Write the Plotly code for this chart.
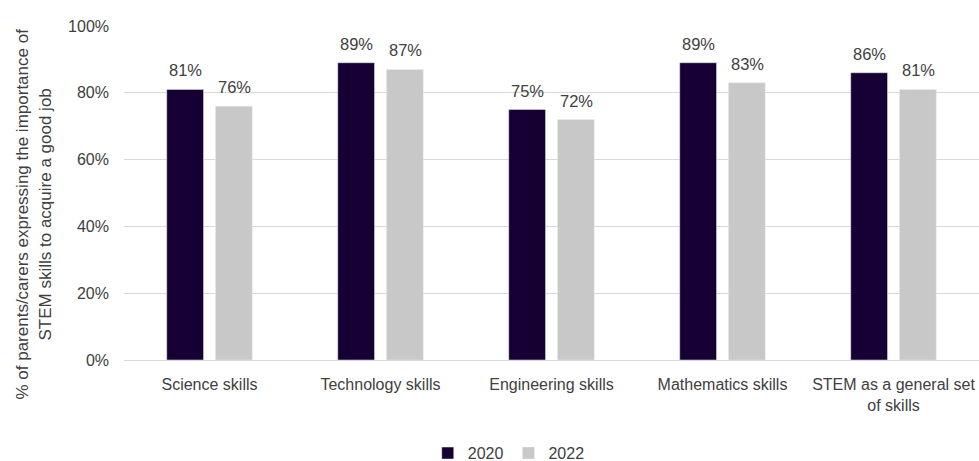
import plotly.graph_objects as go

categories = ["Science skills", "Technology skills", "Engineering skills",
              "Mathematics skills", "STEM as a general set<br>of skills"]
values_2020 = [81, 89, 75, 89, 86]
values_2022 = [76, 87, 72, 83, 81]
tick_vals = [0, 20, 40, 60, 80, 100]
tick_text = ["0%", "20%", "40%", "60%", "80%", "100%"]
y_title = "% of parents/carers expressing the importance of<br>STEM skills to acquire a good job"

FONT = "Liberation Sans, Arial, sans-serif"
TEXT = "#404040"

fig = go.Figure()
fig.add_trace(go.Bar(name="2020", x=categories, y=values_2020,
                     marker=dict(color="#160033"), offsetgroup="a"))
fig.add_trace(go.Bar(name="2022", x=categories, y=values_2022,
                     marker=dict(color="#c8c8c8"), offsetgroup="b"))

# value labels above each bar, offset by group position
for vals, xshift in ((values_2020, -24.5), (values_2022, 24.5)):
    for cat, v in zip(categories, vals):
        fig.add_annotation(x=cat, y=v, text=f"{v}%", showarrow=False,
                           xanchor="center", yanchor="bottom", xshift=xshift, yshift=8,
                           font=dict(size=16.5, color=TEXT, family=FONT))

# rotated y-axis title, centred slightly below the plot middle
fig.add_annotation(xref="paper", yref="paper", x=0, y=0.437, text=y_title,
                   textangle=-90, showarrow=False, xanchor="center", yanchor="middle",
                   xshift=-90.5, align="center",
                   font=dict(size=17, color=TEXT, family=FONT))

fig.update_layout(
    width=979, height=461,
    margin=dict(l=124, r=0, t=26, b=101, autoexpand=False),
    paper_bgcolor="white", plot_bgcolor="white",
    font=dict(family=FONT, color=TEXT, size=16),
    barmode="group", bargap=0.43, bargroupgap=0.245,
    showlegend=True,
    legend=dict(orientation="h", x=0.45, xanchor="center",
                y=-0.228, yanchor="top",
                font=dict(size=16, color=TEXT, family=FONT), traceorder="normal",
                itemwidth=30),
    xaxis=dict(showline=True, linecolor="#d9d9d9", linewidth=1, ticks="",
               ticklabelstandoff=10,
               tickfont=dict(size=16, color=TEXT, family=FONT)),
    yaxis=dict(range=[0, 100], tickvals=tick_vals, ticktext=tick_text,
               showgrid=True, gridcolor="#d9d9d9", gridwidth=1, zeroline=False,
               ticks="", ticklen=0, ticklabelstandoff=14,
               tickfont=dict(size=16, color=TEXT, family=FONT)),
)

fig.write_html("out.html")
